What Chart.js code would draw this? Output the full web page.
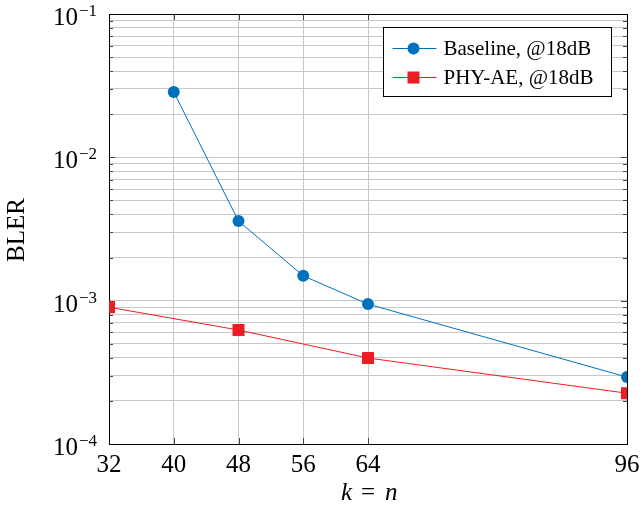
<!DOCTYPE html>
<html><head><meta charset="utf-8">
<script src="https://cdn.jsdelivr.net/npm/chart.js@4"></script>
<style>html,body{margin:0;padding:0;background:#fff}</style>
</head><body>
<canvas id="c" width="642" height="512" style="width:642px;height:512px"></canvas>
<script>
const xTicks = [32, 40, 48, 56, 64, 96];
const xTickLabels = ['32', '40', '48', '56', '64', '96'];
const baselineK = [40, 48, 56, 64, 96];
const baselineBLER = [0.0286, 0.00359, 0.00149, 0.000946, 0.000293];
const phyK = [32, 48, 64, 96];
const phyBLER = [0.0009, 0.000624, 0.000398, 0.000226];
const yDecades = [1e-4, 1e-3, 1e-2, 1e-1];
const yDecadeExponents = ['−4', '−3', '−2', '−1'];
const seriesLabels = ['Baseline, @18dB', 'PHY-AE, @18dB'];
const yTitle = 'BLER';
const blue = 'rgb(0,114,189)';
const red = 'rgb(237,28,36)';
const FONT = "'Liberation Serif', 'DejaVu Serif', serif";

function minorTicks() {
  const t = [];
  for (let d = 0; d < yDecades.length; d++) {
    const base = yDecades[d];
    if (d === yDecades.length - 1) { t.push({value: base}); break; }
    for (let m = 1; m <= 9; m++) t.push({value: +(base * m).toPrecision(3)});
  }
  return t;
}

const frame = {
  id: 'frame',
  beforeDatasetsDraw(chart) {
    const {ctx, chartArea: a, scales} = chart;
    ctx.save();
    ctx.strokeStyle = '#444';
    ctx.lineWidth = 1;
    ctx.beginPath();
    scales.y.ticks.forEach(t => {
      const y = Math.round(scales.y.getPixelForValue(t.value)) + 0.5;
      const isMajor = yDecades.some(d => Math.abs(d - t.value) / d < 1e-6);
      const len = isMajor ? 6 : 4;
      ctx.moveTo(a.left, y); ctx.lineTo(a.left + len, y);
      ctx.moveTo(a.right, y); ctx.lineTo(a.right - len, y);
    });
    scales.x.ticks.forEach(t => {
      const x = Math.round(scales.x.getPixelForValue(t.value)) + 0.5;
      ctx.moveTo(x, a.bottom); ctx.lineTo(x, a.bottom - 6);
      ctx.moveTo(x, a.top); ctx.lineTo(x, a.top + 6);
    });
    ctx.stroke();
    ctx.strokeStyle = '#000';
    ctx.strokeRect(Math.round(a.left) + 0.5, Math.round(a.top) + 0.5, Math.round(a.right - a.left), Math.round(a.bottom - a.top));
    ctx.restore();
  },
  afterDraw(chart) {
    const {ctx, chartArea: a, scales} = chart;
    ctx.save();
    // x tick labels
    ctx.fillStyle = '#000';
    ctx.font = '25px ' + FONT;
    ctx.textAlign = 'center';
    ctx.textBaseline = 'alphabetic';
    xTicks.forEach((v, i) => {
      ctx.fillText(xTickLabels[i], scales.x.getPixelForValue(v), a.bottom + 28);
    });
    // y tick labels: 10 with superscript exponent
    yDecades.forEach((v, i) => {
      const y = scales.y.getPixelForValue(v);
      const xr = a.left - 12;
      ctx.textAlign = 'right';
      ctx.font = '17px ' + FONT;
      const sw = ctx.measureText(yDecadeExponents[i]).width;
      ctx.fillText(yDecadeExponents[i], xr, y + 2);
      ctx.font = '25px ' + FONT;
      ctx.fillText('10', xr - sw - 1, y + 11);
    });
    // y title
    ctx.save();
    ctx.translate(17, (a.top + a.bottom) / 2 + 1);
    ctx.rotate(-Math.PI / 2);
    ctx.textAlign = 'center';
    ctx.textBaseline = 'middle';
    ctx.font = '25px ' + FONT;
    ctx.fillText(yTitle, 0, 0);
    ctx.restore();
    // x title: k = n
    const cx = (a.left + a.right) / 2;
    const by = a.bottom + 56;
    ctx.textBaseline = 'alphabetic';
    ctx.textAlign = 'center';
    ctx.font = '25px ' + FONT;
    ctx.fillText('=', cx, by);
    ctx.font = 'italic 25px ' + FONT;
    ctx.textAlign = 'right';
    ctx.fillText('k', cx - 16, by);
    ctx.textAlign = 'left';
    ctx.fillText('n', cx + 17, by);
    // legend
    const w = 228, h = 69;
    const x0 = Math.round(a.right - 16 - w) + 0.5, y0 = Math.round(a.top + 13) + 0.5;
    ctx.fillStyle = '#fff';
    ctx.fillRect(x0, y0, w, h);
    ctx.strokeStyle = '#000';
    ctx.lineWidth = 1;
    ctx.strokeRect(x0, y0, w, h);
    ctx.font = '21px ' + FONT;
    ctx.textBaseline = 'middle';
    ctx.textAlign = 'left';
    chart.data.datasets.forEach((ds, i) => {
      const cy = y0 + 21 + i * 29;
      ctx.strokeStyle = ds.borderColor;
      ctx.beginPath(); ctx.moveTo(x0 + 9, cy); ctx.lineTo(x0 + 53, cy); ctx.stroke();
      ctx.fillStyle = ds.pointBackgroundColor;
      if (ds.pointStyle === 'circle') {
        ctx.beginPath(); ctx.arc(x0 + 30, cy, 6, 0, Math.PI * 2); ctx.fill();
      } else {
        ctx.fillRect(x0 + 24, cy - 6, 12, 12);
      }
      ctx.fillStyle = '#000';
      ctx.fillText(ds.label, x0 + 60, cy + 1);
    });
    ctx.restore();
  }
};

new Chart(document.getElementById('c'), {
  type: 'line',
  data: {
    datasets: [
      {
        label: seriesLabels[0],
        data: baselineK.map((k, i) => ({x: k, y: baselineBLER[i]})),
        borderColor: blue, backgroundColor: blue, pointBackgroundColor: blue, pointBorderColor: blue,
        borderWidth: 1, pointStyle: 'circle', pointRadius: 6, pointBorderWidth: 0, tension: 0
      },
      {
        label: seriesLabels[1],
        data: phyK.map((k, i) => ({x: k, y: phyBLER[i]})),
        borderColor: red, backgroundColor: red, pointBackgroundColor: red, pointBorderColor: red,
        borderWidth: 1, pointStyle: 'rect', pointRadius: 8.5, pointBorderWidth: 0, tension: 0
      }
    ]
  },
  options: {
    responsive: false,
    animation: false,
    devicePixelRatio: 1,
    layout: {padding: {top: 14, right: 15, left: 0, bottom: 0}},
    plugins: {legend: {display: false}, tooltip: {enabled: false}},
    scales: {
      x: {
        type: 'linear', min: 32, max: 96,
        afterBuildTicks: s => { s.ticks = xTicks.map(v => ({value: v})); },
        afterFit: s => { s.height = 68; },
        grid: {color: '#c8c8c8', lineWidth: 1, drawTicks: false},
        border: {display: false},
        ticks: {display: false}
      },
      y: {
        type: 'logarithmic', min: 1e-4, max: 1e-1,
        afterBuildTicks: s => { s.ticks = minorTicks(); },
        afterFit: s => { s.width = 109; },
        grid: {color: '#c8c8c8', lineWidth: 1, drawTicks: false},
        border: {display: false},
        ticks: {display: false}
      }
    }
  },
  plugins: [frame]
});
</script>
</body></html>
